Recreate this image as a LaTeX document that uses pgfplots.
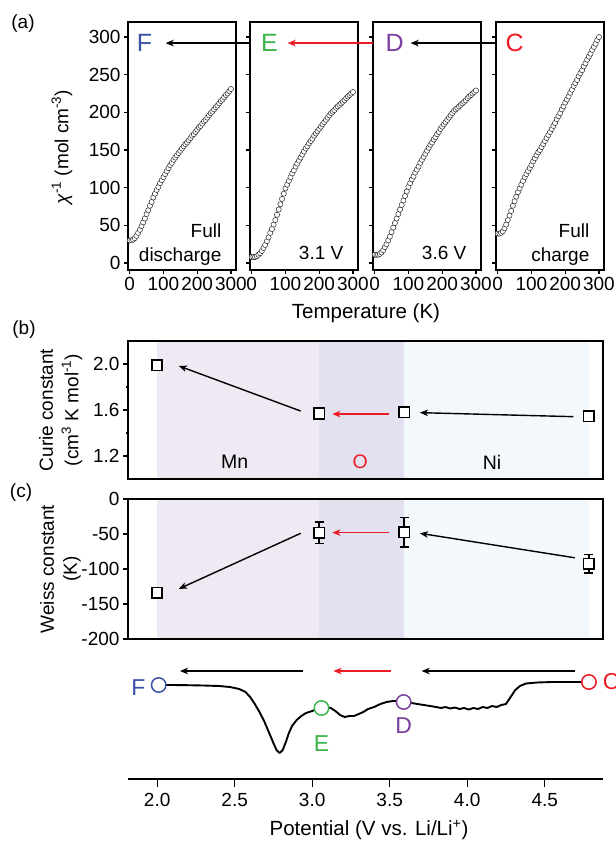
\documentclass[border=0pt]{standalone}
\usepackage{fontspec}
\setmainfont{Liberation Sans}
\usepackage{pgfplots}
\usepackage{pgfplotstable}
\pgfplotsset{compat=1.18}
\usetikzlibrary{arrows.meta}

\definecolor{cF}{HTML}{3B52A5}
\definecolor{cE}{HTML}{3DB54A}
\definecolor{cD}{HTML}{7B3F9E}
\definecolor{cC}{HTML}{ED1C24}
\definecolor{bgMn}{HTML}{EEE9F3}
\definecolor{bgO}{HTML}{E3E1EF}
\definecolor{bgNi}{HTML}{F3F8FC}

\newcommand\fs[1]{\fontsize{#1bp}{#1bp}\selectfont}

% inverse susceptibility vs temperature, four states
\pgfplotstableread{
T disch v31 v36 charge
0 30 8 11 39
5 30 8 11 39
10 31 8 11 40
15 33 9 12 42
20 36 11 14 46
25 40 13 17 51
30 44 16 21 57
35 49 20 25 63
40 54 24 30 69
45 59 29 35 76
50 65 34 41 82
55 70 40 47 88
60 76 45 53 94
65 81 51 59 99
70 87 57 65 104
75 92 64 71 109
80 97 71 77 114
85 101 78 83 118
90 106 85 89 122
95 110 92 95 126
100 114 99 101 130
105 118 104 106 135
110 122 109 111 139
115 126 114 115 143
120 130 119 120 147
125 133 123 124 150
130 137 128 128 154
135 140 132 133 158
140 143 136 137 162
145 146 140 141 166
150 149 144 145 170
155 152 148 149 174
160 155 152 153 178
165 158 155 157 182
170 160 159 160 186
175 163 162 164 191
180 166 165 167 195
185 169 169 171 199
190 171 172 174 204
195 174 175 178 208
200 177 178 181 213
205 180 181 184 217
210 182 184 187 221
215 185 187 190 226
220 188 190 193 230
225 190 193 196 235
230 193 196 199 239
235 196 199 202 243
240 199 201 204 248
245 201 203 206 252
250 204 206 208 256
255 207 208 210 261
260 209 210 212 265
265 212 212 214 270
270 215 214 216 274
275 217 216 219 278
280 220 219 221 283
285 223 221 223 287
290 225 223 225 291
295 228 225 227 296
300 231 227 229 300
}\chidata

\tikzset{arr/.style={-{Stealth[length=8bp,width=6.5bp,inset=2.2bp]}, line width=1.4bp}}

\pgfplotsset{
  base/.style={
    scale only axis,
    axis line style={line width=1.3bp},
    every tick/.style={black, line width=1.2bp},
    tick align=outside, tick pos=left,
    major tick length=4bp, minor tick length=2.5bp,
    /pgf/number format/assume math mode=true,
    tick label style={font=\fs{19}},
    clip=false,
  },
  tpanel/.style={
    base, width=108bp, height=248bp, anchor=south west,
    xmin=-5, xmax=315, ymin=-9.3, ymax=320,
    xtick={0,100,200,300}, ytick={0,50,...,300},
  },
  chi/.style={only marks, mark=*, mark size=2.6bp,
    mark options={fill=white, draw=black!85, line width=0.5bp}},
  vpanel/.style={
    base, width=475bp, anchor=south west,
    xmin=1.812, xmax=4.876, xtick=\empty, major tick length=5bp,
    axis on top,
  },
  sq/.style={only marks, mark=square*, mark size=5.2bp,
    mark options={fill=white, draw=black, line width=1.7bp}},
}

\begin{document}
\begin{tikzpicture}
\useasboundingbox (0,0) rectangle (616bp,-843bp);

% ---------- (a) ----------
\begin{axis}[tpanel, at={(128bp,-270bp)}]
  \addplot[chi] table[x=T, y=disch] {\chidata};
  \node[font=\fs{25}, text=cF] at (axis cs:44,292) {F};
  \node[font=\fs{19}, anchor=base east] at (axis cs:282,34.5) {Full};
  \node[font=\fs{19}, anchor=base east] at (axis cs:282,2.6) {discharge};
\end{axis}

\begin{axis}[tpanel, at={(250bp,-270bp)}, yticklabels={}]
  \addplot[chi] table[x=T, y=v31] {\chidata};
  \node[font=\fs{25}, text=cE] at (axis cs:53,292) {E};
  \draw[arr] (axis cs:-5,292) -- (axis cs:-255,292);
  \node[font=\fs{19}, anchor=base east] at (axis cs:282,4) {3.1 V};
\end{axis}

\begin{axis}[tpanel, at={(373bp,-270bp)}, yticklabels={}]
  \addplot[chi] table[x=T, y=v36] {\chidata};
  \node[font=\fs{25}, text=cD] at (axis cs:59,292) {D};
  \draw[arr, cC] (axis cs:-5,292) -- (axis cs:-258,292);
  \node[font=\fs{19}, anchor=base east] at (axis cs:282,4) {3.6 V};
\end{axis}

\begin{axis}[tpanel, at={(496bp,-270bp)}, yticklabels={}]
  \addplot[chi] table[x=T, y=charge] {\chidata};
  \node[font=\fs{25}, text=cC] at (axis cs:50,292) {C};
  \draw[arr] (axis cs:-5,292) -- (axis cs:-258,292);
  \node[font=\fs{19}, anchor=base east] at (axis cs:282,34.5) {Full};
  \node[font=\fs{19}, anchor=base east] at (axis cs:282,2.6) {charge};
\end{axis}

% ---------- (b) Curie constant ----------
\begin{axis}[vpanel, at={(128bp,-479bp)}, height=138bp,
    ymin=1.0, ymax=2.2, ytick={1.2,1.6,2.0}, minor ytick={1.4,1.8},
    yticklabel style={/pgf/number format/.cd, fixed, fixed zerofill, precision=1}]
  \addplot[draw=none, fill=bgMn, forget plot] coordinates {(2.0,1.0) (3.046,1.0) (3.046,2.2) (2.0,2.2)} -- cycle;
  \addplot[draw=none, fill=bgO, forget plot] coordinates {(3.046,1.0) (3.594,1.0) (3.594,2.2) (3.046,2.2)} -- cycle;
  \addplot[draw=none, fill=bgNi, forget plot] coordinates {(3.594,1.0) (4.784,1.0) (4.784,2.2) (3.594,2.2)} -- cycle;
  \draw[arr] (axis cs:2.926,1.591) -- (axis cs:2.14,1.983);
  \draw[arr, cC] (axis cs:3.497,1.565) -- (axis cs:3.13,1.565);
  \draw[arr] (axis cs:4.685,1.542) -- (axis cs:3.695,1.577);
  \addplot[sq] coordinates {(2.0,1.99) (3.046,1.57) (3.594,1.58) (4.784,1.545)};
  \node[font=\fs{19.5}] at (axis cs:2.5,1.148) {Mn};
  \node[font=\fs{19.5}, text=cC] at (axis cs:3.31,1.148) {O};
  \node[font=\fs{19.5}] at (axis cs:4.16,1.148) {Ni};
\end{axis}

% ---------- (c) Weiss constant ----------
\begin{axis}[vpanel, at={(128bp,-639bp)}, height=140bp,
    ymin=-200, ymax=0, ytick={-200,-150,...,0}]
  \addplot[draw=none, fill=bgMn, forget plot] coordinates {(2.0,-200) (3.046,-200) (3.046,0) (2.0,0)} -- cycle;
  \addplot[draw=none, fill=bgO, forget plot] coordinates {(3.046,-200) (3.594,-200) (3.594,0) (3.046,0)} -- cycle;
  \addplot[draw=none, fill=bgNi, forget plot] coordinates {(3.594,-200) (4.784,-200) (4.784,0) (3.594,0)} -- cycle;
  \draw[arr] (axis cs:2.926,-49) -- (axis cs:2.14,-128.4);
  \draw[arr, cC] (axis cs:3.497,-48) -- (axis cs:3.13,-48);
  \draw[arr] (axis cs:4.695,-84) -- (axis cs:3.695,-49);
  \addplot[only marks, mark=none,
    error bars/.cd, y dir=both, y explicit,
    error bar style={draw=black, line width=1.7bp},
    error mark options={rotate=90, mark size=4.5bp, draw=black, line width=1.7bp}]
    coordinates {(3.046,-48) +- (0,15.5) (3.594,-47.6) +- (0,21.2) (4.784,-92.3) +- (0,13)};
  \addplot[sq] coordinates {(2.0,-134) (3.046,-48) (3.594,-47.6) (4.784,-92.3)};
\end{axis}

% ---------- voltage profile ----------
\begin{axis}[base, at={(128bp,-779bp)}, anchor=south west, width=475bp, height=130bp,
    xmin=1.812, xmax=4.876, ymin=0, ymax=130,
    axis x line*=bottom, axis y line=none,
    x axis line style={-, line width=2bp},
    xtick={2.0,2.5,...,4.5}, major tick length=8bp,
    xticklabel style={yshift=-3bp, /pgf/number format/.cd, fixed, fixed zerofill, precision=1}]
  \addplot[black, line width=1.9bp, line join=round] coordinates {
    (2.02,94) (2.10,94) (2.20,93.8) (2.30,93.5) (2.40,93) (2.47,92) (2.53,90)
    (2.57,87) (2.60,82) (2.63,75) (2.66,67) (2.69,58) (2.72,47) (2.75,36)
    (2.77,29) (2.79,26) (2.81,29) (2.83,37) (2.85,46) (2.87,53) (2.90,59)
    (2.93,63) (2.96,66) (3.00,68) (3.03,70) (3.06,71) (3.09,72) (3.12,71)
    (3.15,68) (3.18,64) (3.21,62) (3.24,63) (3.27,63) (3.30,65) (3.33,67)
    (3.36,70) (3.40,72) (3.44,75) (3.48,77) (3.52,78) (3.56,78) (3.60,77)
    (3.64,76) (3.68,75) (3.72,74) (3.76,73) (3.80,72) (3.83,71) (3.86,72)
    (3.89,70.5) (3.92,71.5) (3.95,70) (3.98,71) (4.01,69.5) (4.04,71) (4.07,70)
    (4.10,72) (4.13,71) (4.16,73) (4.19,72) (4.22,74) (4.25,75) (4.28,82)
    (4.31,89) (4.34,93) (4.38,95.5) (4.45,96.5) (4.55,97) (4.65,97) (4.75,97) (4.785,97)};
  \addplot[only marks, mark=*, mark size=7.2bp, mark options={fill=white, draw=cF, line width=1.5bp}] coordinates {(2.01,94)};
  \addplot[only marks, mark=*, mark size=7.2bp, mark options={fill=white, draw=cE, line width=1.5bp}] coordinates {(3.06,71)};
  \addplot[only marks, mark=*, mark size=7.2bp, mark options={fill=white, draw=cD, line width=1.5bp}] coordinates {(3.59,77)};
  \addplot[only marks, mark=*, mark size=7.2bp, mark options={fill=white, draw=cC, line width=1.5bp}] coordinates {(4.785,97)};
  \draw[arr] (axis cs:2.939,108) -- (axis cs:2.147,108);
  \draw[arr, cC] (axis cs:3.51,108) -- (axis cs:3.137,108);
  \draw[arr] (axis cs:4.695,108) -- (axis cs:3.706,108);
  \node[font=\fs{23}, text=cF] at (axis cs:1.879,91) {F};
  \node[font=\fs{23}, text=cE] at (axis cs:3.06,35.5) {E};
  \node[font=\fs{23}, text=cD] at (axis cs:3.59,53) {D};
  \node[font=\fs{23}, text=cC] at (axis cs:4.928,97) {C};
\end{axis}

% ---------- labels ----------
\node[font=\fs{19}] at (23bp,-24bp) {(a)};
\node[font=\fs{19}] at (24bp,-330bp) {(b)};
\node[font=\fs{19}] at (21bp,-493bp) {(c)};
\node[font=\fs{19}, rotate=90] at (62bp,-147bp) {{\itshape χ}\textsuperscript{-1} (mol cm\textsuperscript{-3})};
\node[font=\fs{20.5}] at (366bp,-313bp) {Temperature (K)};
\node[font=\fs{19}, rotate=90] at (46bp,-410bp) {Curie constant};
\node[font=\fs{19}, rotate=90] at (72bp,-410bp) {(cm\textsuperscript{3} K mol\textsuperscript{-1})};
\node[font=\fs{19}, rotate=90] at (47bp,-569bp) {Weiss constant};
\node[font=\fs{19}, rotate=90] at (72bp,-569bp) {(K)};
\node[font=\fs{20.5}] at (369bp,-830bp) {Potential (V vs. Li/Li\textsuperscript{+})};
\end{tikzpicture}
\end{document}
